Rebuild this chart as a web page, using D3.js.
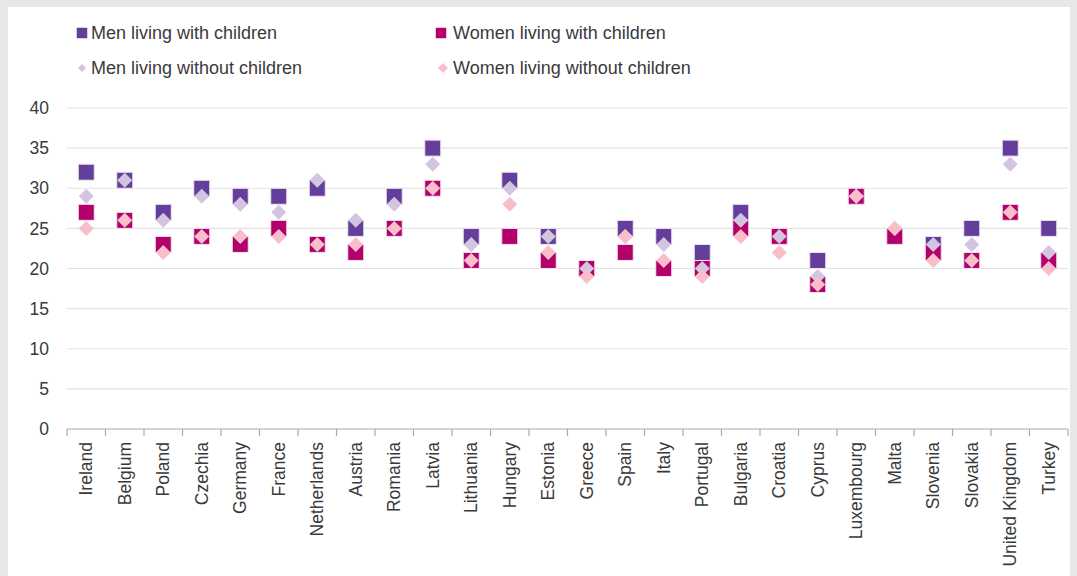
<!DOCTYPE html>
<html>
<head>
<meta charset="utf-8">
<script src="https://cdn.jsdelivr.net/npm/d3@7"></script>
<style>
  body { margin: 0; background: #e6e7e8; }
  text { font-family: "Liberation Sans", Arial, sans-serif; fill: #3a3a3a; }
</style>
</head>
<body>
<script>
// countries along the x axis
var countries = ["Ireland", "Belgium", "Poland", "Czechia", "Germany", "France", "Netherlands",
  "Austria", "Romania", "Latvia", "Lithuania", "Hungary", "Estonia", "Greece", "Spain", "Italy",
  "Portugal", "Bulgaria", "Croatia", "Cyprus", "Luxembourg", "Malta", "Slovenia", "Slovakia",
  "United Kingdom", "Turkey"];

var menWith      = [32, 31, 27, 30, 29, 29, 30, 25, 29, 35, 24, 31, 24, 20, 25, 24, 22, 27, 24, 21, 29, 24, 23, 25, 35, 25];
var womenWith    = [27, 26, 23, 24, 23, 25, 23, 22, 25, 30, 21, 24, 21, 20, 22, 20, 20, 25, 24, 18, 29, 24, 22, 21, 27, 21];
var menWithout   = [29, 31, 26, 29, 28, 27, 31, 26, 28, 33, 23, 30, 24, 20, 24, 23, 20, 26, 24, 19, 29, 25, 23, 23, 33, 22];
var womenWithout = [25, 26, 22, 24, 24, 24, 23, 23, 25, 30, 21, 28, 22, 19, 24, 21, 19, 24, 22, 18, 29, 25, 21, 21, 27, 20];

var yTicks = [0, 5, 10, 15, 20, 25, 30, 35, 40];

var series = [
  { name: "Men living with children",      values: menWith,      color: "#633e9a", shape: "square" },
  { name: "Women living with children",    values: womenWith,    color: "#b3006b", shape: "square" },
  { name: "Men living without children",   values: menWithout,   color: "#d3c5e1", shape: "diamond" },
  { name: "Women living without children", values: womenWithout, color: "#f8bfcb", shape: "diamond" }
];

var width = 1077, height = 576;

var svg = d3.select("body").append("svg")
    .attr("width", width)
    .attr("height", height);

svg.append("rect")
    .attr("x", 8).attr("y", 7)
    .attr("width", 1062).attr("height", height - 7)
    .attr("fill", "#fff");

var x = d3.scaleBand().domain(countries).range([67, 1068]);
var y = d3.scaleLinear().domain([0, 40]).range([429, 108]);

// grid
svg.append("g").selectAll("line")
    .data(yTicks.filter(function (d) { return d > 0; }))
    .enter().append("line")
    .attr("x1", 67).attr("x2", 1068)
    .attr("y1", function (d) { return y(d); })
    .attr("y2", function (d) { return y(d); })
    .attr("stroke", "#e3e3e3")
    .attr("stroke-width", 1.2);

// y labels
svg.append("g").selectAll("text")
    .data(yTicks)
    .enter().append("text")
    .attr("x", 49)
    .attr("y", function (d) { return y(d); })
    .attr("dy", "0.35em")
    .attr("text-anchor", "end")
    .style("font-size", "17.5px")
    .text(function (d) { return d; });

// x axis
var xAxis = svg.append("g")
    .attr("transform", "translate(0,429)");

xAxis.append("line")
    .attr("x1", 67).attr("x2", 1068)
    .attr("stroke", "#aaa").attr("stroke-width", 1.2);

var bounds = countries.map(function (c) { return x(c); }).concat([x.range()[1]]);
xAxis.selectAll(".tick")
    .data(bounds)
    .enter().append("line")
    .attr("class", "tick")
    .attr("x1", function (d) { return d; })
    .attr("x2", function (d) { return d; })
    .attr("y1", 0).attr("y2", 7)
    .attr("stroke", "#aaa").attr("stroke-width", 1.2);

xAxis.selectAll("text")
    .data(countries)
    .enter().append("text")
    .attr("transform", function (d) {
      return "translate(" + (x(d) + x.bandwidth() / 2) + ",13) rotate(-90)";
    })
    .attr("dy", "0.35em")
    .attr("text-anchor", "end")
    .style("font-size", "17.5px")
    .text(function (d) { return d; });

// markers
function drawMark(sel, shape, size) {
  if (shape === "square") {
    sel.attr("d", d3.symbol(d3.symbolSquare, size * size)());
  } else {
    sel.attr("d", d3.symbol(d3.symbolSquare, size * size / 2)());
  }
}

series.forEach(function (s) {
  var g = svg.append("g");
  var marks = g.selectAll("path")
      .data(s.values)
      .enter().append("path")
      .attr("transform", function (d, i) {
        var t = "translate(" + (x(countries[i]) + x.bandwidth() / 2) + "," + y(d) + ")";
        return s.shape === "diamond" ? t + " rotate(45)" : t;
      })
      .attr("fill", s.color);
  if (s.shape === "square") {
    drawMark(marks, "square", 16);
    marks.attr("stroke", "#f1e4ef").attr("stroke-width", 1);
  } else {
    drawMark(marks, "diamond", 15);
  }
});

// legend
var legendPos = [[82, 33], [441, 33], [82, 68], [443, 68]];
series.forEach(function (s, i) {
  var p = legendPos[i];
  var m = svg.append("path")
      .attr("fill", s.color);
  if (s.shape === "square") {
    m.attr("d", d3.symbol(d3.symbolSquare, 110)())
     .attr("transform", "translate(" + p[0] + "," + p[1] + ")");
  } else {
    var sz = i === 2 ? 8 : 10;
    m.attr("d", d3.symbol(d3.symbolSquare, sz * sz / 2)())
     .attr("transform", "translate(" + p[0] + "," + p[1] + ") rotate(45)");
  }
  svg.append("text")
      .attr("x", i % 2 ? 453 : 91)
      .attr("y", p[1])
      .attr("dy", "0.35em")
      .style("font-size", "18px")
      .text(s.name);
});
</script>
</body>
</html>
